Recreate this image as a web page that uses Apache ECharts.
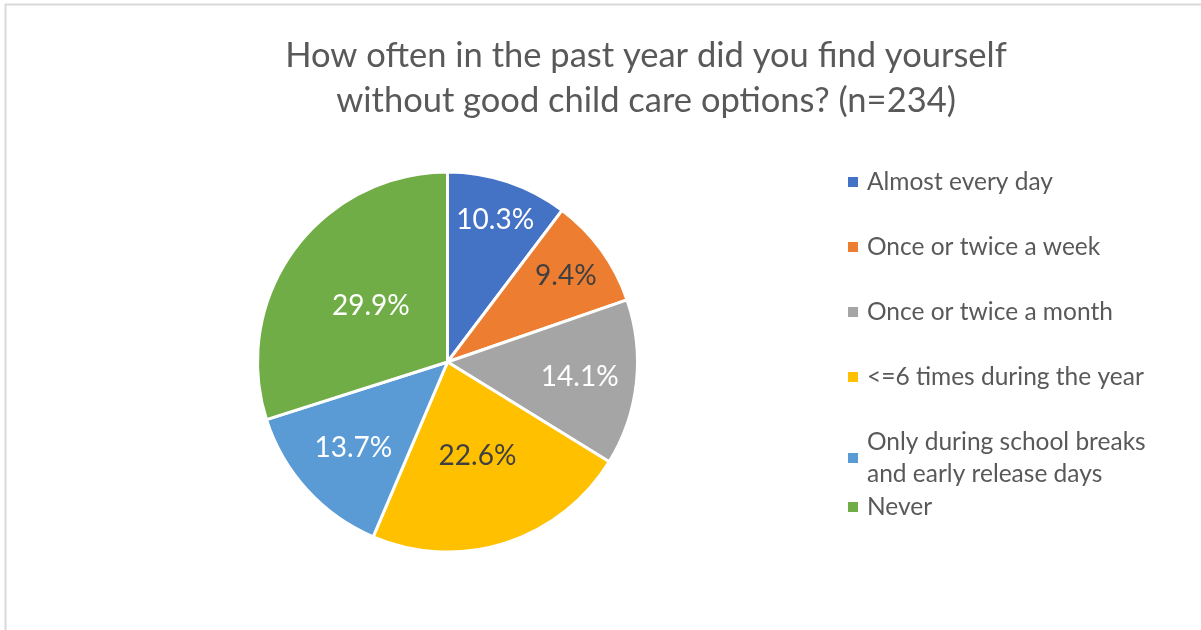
<!DOCTYPE html>
<html>
<head>
<meta charset="utf-8">
<script src="https://cdn.jsdelivr.net/npm/echarts@6/dist/echarts.min.js"></script>
<style>
  html, body { margin: 0; padding: 0; background: #ffffff; }
  #chart { width: 1201px; height: 630px; }
</style>
</head>
<body>
<div id="chart"></div>
<script>
// Survey answers and their shares (%)
const categories = [
  'Almost every day',
  'Once or twice a week',
  'Once or twice a month',
  '<=6 times during the year',
  'Only during school breaks and early release days',
  'Never'
];
const shares = [10.3, 9.4, 14.1, 22.6, 13.7, 29.9];
const titleText = 'How often in the past year did you find yourself\nwithout good child care options? (n=234)';

// Office palette and label ink for each slice
const sliceColors = ['#4472C4', '#ED7D31', '#A5A5A5', '#FFC000', '#5B9BD5', '#70AD47'];
const labelInk = ['#ffffff', '#404040', '#ffffff', '#404040', '#ffffff', '#ffffff'];
// How far out (fraction of radius) each percentage sits inside its slice
const labelRadii = [0.79, 0.77, 0.70, 0.52, 0.67, 0.50];

const FONT = 'Lato, "Open Sans", sans-serif';
const CENTER = [447.5, 362];
const RADIUS = 190;

// Mid angle of every slice, clockwise from 12 o'clock
const total = shares.reduce((a, b) => a + b, 0);
const midAngles = [];
let acc = 0;
shares.forEach(v => {
  midAngles.push((acc + v / 2) / total * Math.PI * 2);
  acc += v;
});

const chart = echarts.init(document.getElementById('chart'), null, { renderer: 'canvas' });

const legendCommon = {
  orient: 'vertical',
  left: 848,
  padding: 0,
  icon: 'rect',
  itemWidth: 10,
  itemHeight: 10,
  selectedMode: false,
  itemStyle: { borderWidth: 0 },
  textStyle: {
    fontFamily: FONT,
    fontSize: 24.5,
    color: '#595959',
    lineHeight: 32,
    padding: [0, 0, 0, 4],
    width: 290,
    overflow: 'break'
  }
};

chart.setOption({
  backgroundColor: '#ffffff',
  animation: false,
  title: {
    text: titleText,
    left: 646,
    top: 33,
    padding: 0,
    textAlign: 'center',
    textStyle: {
      fontFamily: FONT,
      fontSize: 34.5,
      fontWeight: 'normal',
      color: '#595959',
      lineHeight: 45
    }
  },
  graphic: [{
    type: 'rect',
    silent: true,
    shape: { x: 5.5, y: 4.5, width: 1400, height: 800 },
    style: { fill: null, stroke: '#d9d9d9', lineWidth: 2 }
  }],
  legend: [
    Object.assign({}, legendCommon, { top: 166, itemGap: 33, data: categories.slice(0, 5) }),
    Object.assign({}, legendCommon, { top: 491, data: categories.slice(5) })
  ],
  series: [{
    type: 'pie',
    center: CENTER,
    radius: RADIUS,
    startAngle: 90,
    clockwise: true,
    avoidLabelOverlap: false,
    itemStyle: { borderColor: '#ffffff', borderWidth: 3 },
    emphasis: { disabled: true },
    label: {
      show: true,
      position: 'inside',
      fontFamily: FONT,
      fontSize: 28,
      formatter: p => p.value.toFixed(1) + '%'
    },
    labelLine: { show: false },
    labelLayout: params => {
      const i = params.dataIndex;
      const r = labelRadii[i] * RADIUS;
      return {
        x: CENTER[0] + r * Math.sin(midAngles[i]),
        y: CENTER[1] - r * Math.cos(midAngles[i]),
        align: 'center',
        verticalAlign: 'middle'
      };
    },
    data: categories.map((name, i) => ({
      name: name,
      value: shares[i],
      itemStyle: { color: sliceColors[i] },
      label: { color: labelInk[i] }
    }))
  }]
});
</script>
</body>
</html>
